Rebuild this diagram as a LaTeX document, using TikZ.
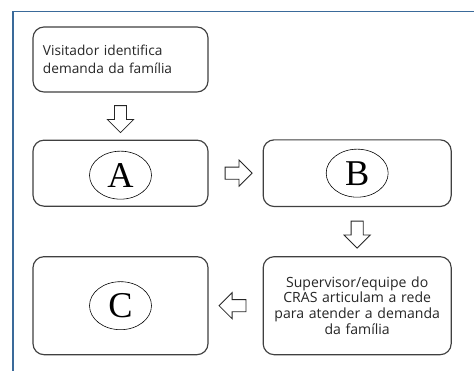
\documentclass[tikz,border=0pt]{standalone}
\usepackage{fontspec}
\usepackage{tikz}
\usetikzlibrary{shapes.geometric, shapes.arrows, positioning, calc}
\newfontfamily\boxfont{Open Sans}
\newfontfamily\letterfont{Liberation Serif}
\definecolor{frameBlue}{HTML}{3A6A9A}
\definecolor{boxGray}{HTML}{404040}
\definecolor{textGray}{HTML}{262626}
\tikzset{
    flowbox/.style={draw=boxGray, line width=1pt, rounded corners=0.33cm, fill=white},
    boxtext/.style={font=\boxfont\fontsize{12}{13.6}\selectfont, text=textGray},
    letterbox/.style={ellipse, draw=black, line width=0.5pt, inner sep=0pt,
        minimum width=1.86cm, minimum height=1.44cm, font=\letterfont\fontsize{31}{31}\selectfont},
    hollowarrow/.style={single arrow, draw=black!85, line width=0.7pt, fill=white,
        inner sep=0.17cm, single arrow head extend=0.21cm, minimum height=0.81cm}
}
\begin{document}
\begin{tikzpicture}[x=0.03cm, y=-0.03cm]
        \useasboundingbox (0,0) rectangle (474,371);
        % Frame
        \draw[frameBlue, line width=1.6pt] (474,11.5) -| (13,371);

        % Boxes
        \node[flowbox, boxtext, minimum width=5.25cm, minimum height=1.95cm,
              text width=4.65cm, align=left, font=\boxfont\fontsize{11.7}{15.6}\selectfont]
              (visit) at (120.5,59.5) {Visitador identifica\\demanda da família};
        \node[flowbox, minimum width=5.25cm, minimum height=1.98cm, below=1.41cm of visit] (boxA) {};
        \node[flowbox, minimum width=5.64cm, minimum height=2.0cm, right=1.62cm of boxA] (boxB) {};
        \node[flowbox, boxtext, minimum width=5.64cm, minimum height=2.94cm,
              text width=5.4cm, align=center, below=1.47cm of boxB]
              (super) {Supervisor/equipe do\\CRAS articulam a rede\\para atender a demanda\\da família};
        \node[flowbox, minimum width=5.25cm, minimum height=2.94cm, left=1.62cm of super] (boxC) {};

        % Letters
        \node[letterbox] (letA) at ([yshift=-0.06cm]boxA.center) {A};
        \node[letterbox] (letB) at (boxB.center) {B};
        \node[letterbox] (letC) at (boxC.center) {C};

        % Arrows
        \node[hollowarrow, shape border rotate=270] (arr1) at ($(visit.south)!0.5!(boxA.north)$) {};
        \node[hollowarrow] (arr2) at ($(boxA.east)!0.5!(boxB.west)$) {};
        \node[hollowarrow, shape border rotate=270] (arr3) at ($(boxB.south)!0.5!(super.north)$) {};
        \node[hollowarrow, shape border rotate=180] (arr4) at ($(super.west)!0.5!(boxC.east)$) {};
    \end{tikzpicture}
\end{document}
